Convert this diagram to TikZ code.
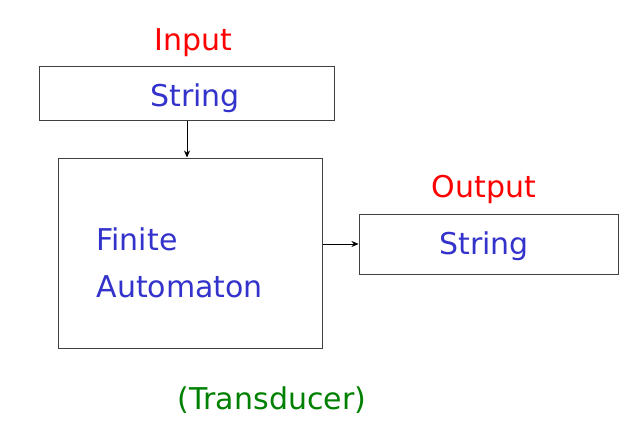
\documentclass[tikz,border=0pt]{standalone}
\usepackage{fontspec}
\setmainfont{DejaVu Sans}
\usetikzlibrary{arrows.meta, positioning}

\definecolor{labelred}{RGB}{255,0,0}
\definecolor{textblue}{RGB}{51,51,204}
\definecolor{notegreen}{RGB}{0,128,0}

\begin{document}
\begin{tikzpicture}[
    x=1pt, y=-1pt,
    box/.style={draw=black!75, line width=1pt, inner sep=0pt},
    big/.style={font=\fontsize{30}{33}\selectfont},
    >={Stealth[length=7pt, width=6pt]}
  ]
  \useasboundingbox (0,0) rectangle (627,431);

  % input tape
  \node[big, text=labelred] (inlabel) at (193, 43) {Input};
  \node[box, minimum width=295pt, minimum height=54pt] (inbox) at (186.5, 93) {};
  \node[big, text=textblue] (instr) at (195, 98) {String};

  % the machine
  \node[box, minimum width=264pt, minimum height=190pt] (fa) at (190, 253) {};
  \node[big, text=textblue, anchor=west] (finite) at (93, 239) {Finite};
  \node[big, text=textblue, anchor=west] (automaton) at (93, 287) {Automaton};

  % output tape
  \node[big, text=labelred] (outlabel) at (484, 189) {Output};
  \node[box, minimum width=259pt, minimum height=60pt] (outbox) at (488.5, 244) {};
  \node[big, text=textblue] (outstr) at (484, 246) {String};

  \node[big, text=notegreen] (kind) at (272, 400) {(Transducer)};

  % connectors
  \draw[->, line width=0.7pt] (inbox.south -| 187, 0) -- (fa.north -| 187, 0);
  \draw[->, line width=0.7pt] (fa.east |- 0, 244) -- (outbox.west |- 0, 244);
\end{tikzpicture}
\end{document}
